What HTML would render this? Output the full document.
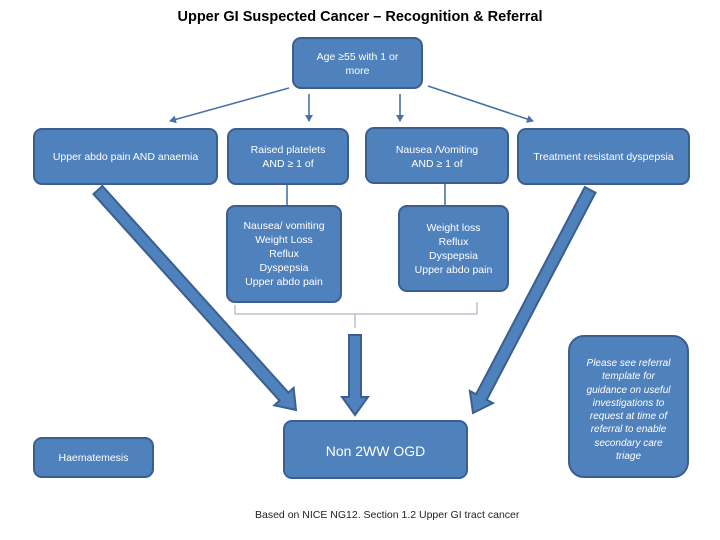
<!DOCTYPE html>
<html><head><style>
body{margin:0;width:720px;height:540px;background:#fff;position:relative;overflow:hidden;font-family:"Liberation Sans",sans-serif}
.b{position:absolute;box-sizing:border-box;background:#4f81bd;border:2.5px solid #3a5f8f;border-radius:9px;color:#fff;font-size:10.5px;line-height:14px;display:flex;align-items:center;justify-content:center;text-align:center}
</style></head><body>
<div style="position:absolute;left:0;width:720px;top:9px;text-align:center;font-weight:bold;font-size:14.5px">Upper GI Suspected Cancer – Recognition &amp; Referral</div>
<svg width="720" height="540" style="position:absolute;left:0;top:0">
<defs><marker id="m" markerWidth="8" markerHeight="8" refX="6" refY="4" orient="auto" markerUnits="userSpaceOnUse"><path d="M0,0 L7,4 L0,8 z" fill="#4a72a6"/></marker></defs>
<g stroke="#4a72a6" stroke-width="1.6" fill="none">
<line x1="289" y1="88" x2="170" y2="121" marker-end="url(#m)"/>
<line x1="309" y1="94" x2="309" y2="121" marker-end="url(#m)"/>
<line x1="400" y1="94" x2="400" y2="121" marker-end="url(#m)"/>
<line x1="428" y1="86" x2="533" y2="121" marker-end="url(#m)"/>
<line x1="287" y1="185" x2="287" y2="206"/>
<line x1="445" y1="184" x2="445" y2="206"/>
</g>
<path d="M235,305 L235,314 L355,314 L355,328 M355,314 L477,314 L477,302" stroke="#9aa6b5" stroke-width="1" fill="none"/>
<g fill="#4f81bd" stroke="#3a5f8f" stroke-width="2">
<g transform="translate(296,410) rotate(48)"><polygon points="0,0 -18,-13 -18,-6 -296,-6 -296,6 -18,6 -18,13"/></g>
<g transform="translate(355,415) rotate(90)"><polygon points="0,0 -18,-13 -18,-6 -80,-6 -80,6 -18,6 -18,13"/></g>
<g transform="translate(473,413) rotate(117.7)"><polygon points="0,0 -18,-13 -18,-6 -252,-6 -252,6 -18,6 -18,13"/></g>
</g>
</svg>
<div class="b" style="left:292px;top:37px;width:131px;height:52px;align-items:flex-start;padding-top:11px">Age ≥55 with 1 or<br>more</div>
<div class="b" style="left:33px;top:128px;width:185px;height:57px">Upper abdo pain AND anaemia</div>
<div class="b" style="left:227px;top:128px;width:122px;height:57px">Raised platelets<br>AND ≥ 1 of</div>
<div class="b" style="left:365px;top:127px;width:144px;height:57px;align-items:flex-start;padding-top:14px">Nausea /Vomiting<br>AND ≥ 1 of</div>
<div class="b" style="left:517px;top:128px;width:173px;height:57px">Treatment resistant dyspepsia</div>
<div class="b" style="left:226px;top:205px;width:116px;height:98px">Nausea/ vomiting<br>Weight Loss<br>Reflux<br>Dyspepsia<br>Upper abdo pain</div>
<div class="b" style="left:398px;top:205px;width:111px;height:87px">Weight loss<br>Reflux<br>Dyspepsia<br>Upper abdo pain</div>
<div class="b" style="left:33px;top:437px;width:121px;height:41px">Haematemesis</div>
<div class="b" style="left:283px;top:420px;width:185px;height:59px;font-size:14px;align-items:flex-start;padding-top:22px">Non 2WW OGD</div>
<div class="b" style="left:568px;top:335px;width:121px;height:143px;border-radius:16px;font-style:italic;font-size:10px;line-height:13.3px;align-items:flex-start;padding-top:20px">Please see referral<br>template for<br>guidance on useful<br>investigations to<br>request at time of<br>referral to enable<br>secondary care<br>triage</div>
<div style="position:absolute;left:255px;top:509px;font-size:10.5px;color:#222">Based on NICE NG12. Section 1.2 Upper GI tract cancer</div>
</body></html>
